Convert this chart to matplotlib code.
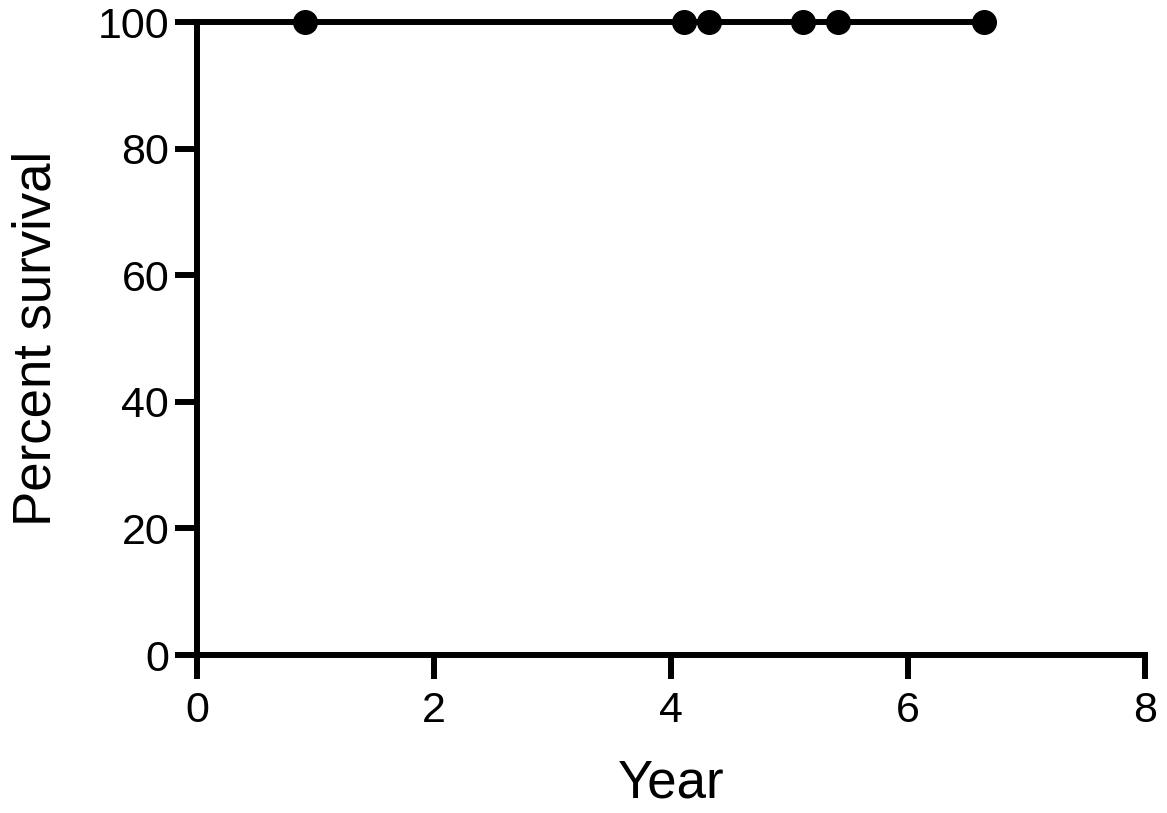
import matplotlib.pyplot as plt

# Kaplan-Meier data: survival stays at 100 %, censored points marked
time = [0, 0.91, 4.11, 4.32, 5.11, 5.41, 6.64]
surv = [100, 100, 100, 100, 100, 100, 100]
cens_time = [0.91, 4.11, 4.32, 5.11, 5.41, 6.64]
cens_surv = [100, 100, 100, 100, 100, 100]

xticks = [0, 2, 4, 6, 8]
yticks = [0, 20, 40, 60, 80, 100]

plt.rcParams['font.family'] = ['Liberation Sans', 'DejaVu Sans']
lw = 4.3

fig = plt.figure(figsize=(11.67, 8.13), dpi=100)
ax = fig.add_axes([0.1688, 0.1943, 0.9812 - 0.1688, 0.9729 - 0.1943])

ax.step(time, surv, where='post', color='black', linewidth=lw, clip_on=False,
        solid_capstyle='butt', zorder=3)
ax.plot(cens_time, cens_surv, 'o', color='black', markersize=17, clip_on=False,
        zorder=4)

ax.set_xlim(0, 8)
ax.set_ylim(0, 100)
ax.set_xticks(xticks)
ax.set_yticks(yticks)

for s in ['top', 'right']:
    ax.spines[s].set_visible(False)
for s in ['left', 'bottom']:
    ax.spines[s].set_linewidth(lw)
    ax.spines[s].set_capstyle('projecting')

ax.tick_params(axis='both', direction='out', length=16, width=lw,
               labelsize=31, pad=4)
ax.tick_params(axis='x', length=17, pad=9)

ax.set_xlabel('Year', fontsize=38, labelpad=20)
ax.set_ylabel('Percent survival', fontsize=38, labelpad=26)

fig.savefig('out.png', dpi=100)
